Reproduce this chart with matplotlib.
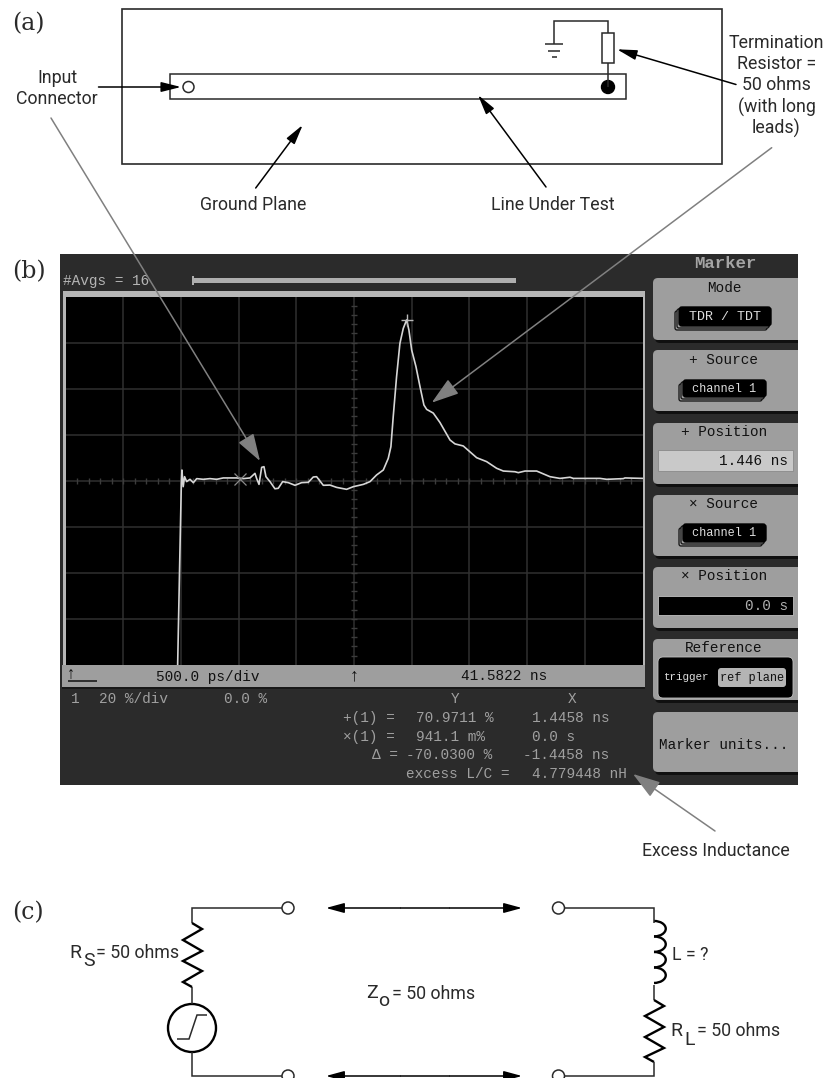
import numpy as np
import matplotlib
matplotlib.use('Agg')
import matplotlib.pyplot as plt
from matplotlib.patches import Rectangle, FancyBboxPatch, Circle, Arc

W, H = 829, 1078

# --- trace ---
time_ns = [-0.540, -0.520, -0.508, -0.503, -0.492, -0.480, -0.462, -0.433, -0.404, -0.375,
           -0.318, -0.260, -0.202, -0.145, -0.087, -0.029, 0.029, 0.087, 0.130, 0.144,
           0.165, 0.188, 0.208, 0.225, 0.260, 0.303, 0.332, 0.370, 0.419, 0.477,
           0.534, 0.592, 0.635, 0.664, 0.722, 0.780, 0.837, 0.924, 0.982, 1.069,
           1.127, 1.184, 1.242, 1.285, 1.308, 1.328, 1.357, 1.386, 1.415, 1.444,
           1.464, 1.488, 1.525, 1.560, 1.594, 1.618, 1.675, 1.733, 1.820, 1.863,
           1.935, 2.051, 2.137, 2.224, 2.282, 2.383, 2.412, 2.470, 2.571, 2.686,
           2.773, 2.860, 2.889, 3.120, 3.178, 3.322, 3.336, 3.489]
percent = [-80.0, -30.1, -1.1, 4.65, -2.6, 1.75, -0.4, 0.6, -0.85, 0.9,
           0.6, 0.9, 0.6, 1.2, 1.2, 1.2, 0.9, 1.2, 3.2, 1.0,
           -1.6, 5.8, 6.1, 1.75, -0.4, -3.5, -3.3, -0.4, -0.85, -2.0,
           -0.85, -0.7, 1.6, 1.75, -2.0, -1.9, -2.9, -3.75, -2.6, -1.6,
           -0.4, 2.5, 4.65, 9.7, 14.8, 27.8, 45.2, 59.7, 66.2, 69.9,
           65.5, 56.8, 49.6, 40.9, 32.9, 31.0, 29.4, 25.3, 17.7, 16.0,
           15.1, 10.0, 8.3, 5.4, 4.2, 3.9, 3.5, 4.2, 4.2, 1.75,
           1.0, 1.5, 1.0, 1.0, 0.6, 0.9, 1.2, 1.0]
plus_marker = (1.4458, 70.0)
x_marker = (0.0, 0.9411)

SANS = 'Roboto'
MONO = 'Liberation Mono'
SERIF = 'DejaVu Serif'
INK = '#2a2a2a'
SCREEN = '#2b2b2b'
PANEL = '#9e9e9e'
DIM = '#a0a0a0'

fig = plt.figure(figsize=(W / 100, H / 100), dpi=100, facecolor='white')


def pixel_axes(z):
    a = fig.add_axes([0, 0, 1, 1], zorder=z)
    a.set_xlim(0, W)
    a.set_ylim(H, 0)
    a.axis('off')
    a.patch.set_alpha(0)
    return a


ax = pixel_axes(1)
top = pixel_axes(3)


def wire(a, xs, ys, lw=1.1, color=INK):
    a.plot(xs, ys, color=color, lw=lw, solid_capstyle='butt', solid_joinstyle='miter')


def label(x, y, s, size=12.8, ha='center', color=INK, a=None, **kw):
    (a or ax).text(x, y, s, fontsize=size, family=SANS, ha=ha, va='center', color=color, **kw)


def arrow(tail, tip, color='black', lw=1.1, length=12, half=3, style='-|>', a=None):
    (a or ax).annotate('', xy=tip, xytext=tail,
                       arrowprops=dict(arrowstyle=f'{style},head_length={length},head_width={half}',
                                       mutation_scale=1, color=color, lw=lw,
                                       shrinkA=0, shrinkB=0))


def mono(x, y, s, color=DIM, ha='left', size=10.4, a=None, **kw):
    (a or ax).text(x, y, s, fontsize=size, family=MONO, ha=ha, va='center', color=color, **kw)


# --- (a) layout sketch ---
ax.text(12, 24, '(a)', fontsize=17, family=SERIF, va='center', color=INK)
ax.add_patch(Rectangle((122, 9), 600, 155, fill=False, ec=INK, lw=1.2))
ax.add_patch(Rectangle((170, 74), 456.5, 25, fill=False, ec=INK, lw=1.1))
ax.add_patch(Circle((188.5, 87), 5.5, fc='white', ec=INK, lw=1.1))
ax.add_patch(Circle((608, 87), 6.5, fc='black', ec='black'))
ax.add_patch(Rectangle((602, 33), 12.5, 30, fc='white', ec=INK, lw=1.1, zorder=3))
wire(ax, [608, 608], [63, 87])
wire(ax, [608, 608, 554, 554], [33, 21, 21, 44])
wire(ax, [545, 563.5], [44, 44])
wire(ax, [548.5, 560], [50.5, 50.5])
wire(ax, [552, 557.5], [57, 57])

label(57, 78, 'Input')
label(57, 99, 'Connector')
arrow((98.5, 87), (181, 87))
label(253, 205.5, 'Ground Plane')
arrow((255.7, 188), (302.7, 125))
label(553, 205.5, 'Line Under Test')
arrow((546, 187), (478, 95))
for yy, s in zip([43, 64, 85, 107, 128],
                 ['Termination', 'Resistor =', '50 ohms', '(with long', 'leads)']):
    label(776.5, yy, s)
arrow((736, 84.5), (617, 49.3))

# --- (b) scope screen ---
ax.text(12, 272, '(b)', fontsize=17, family=SERIF, va='center', color=INK)
ax.add_patch(Rectangle((60, 254), 738, 531, fc=SCREEN, ec='none'))
ax.add_patch(Rectangle((193, 278), 323, 5, fc='#aeaeae', ec='none'))
ax.add_patch(Rectangle((192.5, 276), 1.2, 9, fc='#aeaeae', ec='none'))
mono(63, 281, '#Avgs = 16', color='#b4b4b4')

# frame round the graticule and the status bar
ax.add_patch(Rectangle((63.5, 291), 582, 396, fc='#b6b6b6', ec='none'))
ax.add_patch(Rectangle((62, 665), 583, 22, fc=PANEL, ec='none'))
wire(ax, [62, 645], [687.5, 687.5], lw=1.2, color='#151515')
mono(156, 676.5, '500.0 ps/div', color='#111111')
mono(461, 676.5, '41.5822 ns', color='#111111')
mono(354, 675.5, '↑', color='#111111', ha='center', size=13)
mono(71, 674, '↑', color='#111111', ha='center', size=12)
wire(ax, [68, 97], [680.5, 680.5], color='#111111')

mono(75, 699, '1', ha='center')
mono(99.5, 699, '20 %/div')
mono(224.5, 699, '0.0 %')
mono(455, 699, 'Y', ha='center')
mono(572, 699, 'X', ha='center')
mono(343, 718, '+(1) =')
mono(416, 718, '70.9711 %')
mono(532.5, 718, '1.4458 ns')
mono(343, 737, '×(1) =')
mono(416, 737, '941.1 m%')
mono(532.5, 737, '0.0 s')
mono(372, 755, 'Δ =')
mono(406, 755, '-70.0300 %')
mono(523, 755, '-1.4458 ns')
mono(406, 774, 'excess L/C =')
mono(532.5, 774, '4.779448 nH')

# softkey panels
panels = [(278, 342), (350, 413), (423, 486), (495, 558), (567, 630), (639, 702), (712, 774)]
for y0, y1 in panels:
    ax.add_patch(FancyBboxPatch((655, y0 + 2), 160, y1 - y0 - 1,
                                boxstyle='round,pad=0,rounding_size=5', fc='#101010', ec='none'))
    ax.add_patch(FancyBboxPatch((653, y0), 160, y1 - y0 - 2,
                                boxstyle='round,pad=0,rounding_size=5', fc=PANEL, ec='none'))
ax.add_patch(Rectangle((798, 250), 31, 540, fc='white', ec='none', zorder=2))

mono(725, 264, 'Marker', color='#a4a4a4', ha='center', size=12.5, fontweight='bold')


def softkey(y, s):
    mono(724, y, s, color='#111111', ha='center')


def stacked(x0, x1, y0, y1, s, size):
    # offset outlines behind the black pill
    for d in (4, 2):
        ax.add_patch(FancyBboxPatch((x0 - d, y0 + d), x1 - x0, y1 - y0,
                                    boxstyle='round,pad=0,rounding_size=2',
                                    fc=PANEL, ec='#111111', lw=0.9))
    ax.add_patch(FancyBboxPatch((x0, y0), x1 - x0, y1 - y0,
                                boxstyle='round,pad=0,rounding_size=3', fc='black', ec='black'))
    mono((x0 + x1) / 2, (y0 + y1) / 2, s, color='#dddddd', ha='center', size=size)


softkey(288, 'Mode')
stacked(679, 771, 307, 326, 'TDR / TDT', 9.6)
softkey(360, '+ Source')
stacked(683, 766, 380, 397, 'channel 1', 8.6)
softkey(432, '+ Position')
ax.add_patch(Rectangle((658, 450), 135, 21, fc='#c9c9c9', ec='#8a8a8a', lw=0.6))
mono(788, 461, '1.446 ns', color='#111111', ha='right')
softkey(504, '× Source')
stacked(683, 766, 524, 542, 'channel 1', 8.6)
softkey(576, '× Position')
ax.add_patch(Rectangle((658, 596), 135, 19, fc='black', ec='#c0c0c0', lw=0.6))
mono(788, 606, '0.0 s', color='#b0b0b0', ha='right')
softkey(648, 'Reference')
ax.add_patch(FancyBboxPatch((658, 657), 135, 41, boxstyle='round,pad=0,rounding_size=5',
                            fc='black', ec='#c0c0c0', lw=0.6))
mono(663, 677, 'trigger', color='#dddddd', size=7.8)
ax.add_patch(FancyBboxPatch((718, 668), 68, 19, boxstyle='round,pad=0,rounding_size=3',
                            fc='#b4b4b4', ec='none'))
mono(752, 677.5, 'ref plane', color='#111111', ha='center', size=8.6)
mono(659, 745, 'Marker units...', color='#111111')

# graticule axes: ns across, % up
sx0, sx1, sy0, sy1 = 65.6, 642.6, 296.7, 664.7
sc = fig.add_axes([sx0 / W, 1 - sy1 / H, (sx1 - sx0) / W, (sy1 - sy0) / H], zorder=2)
sc.set_facecolor('black')
sc.set_xlim(-1.511, 3.489)
sc.set_ylim(-80, 80)
for s in sc.spines.values():
    s.set_visible(False)
sc.set_xticks(-1.511 + 0.5 * np.arange(1, 10))
sc.set_yticks(np.arange(-60, 61, 20))
sc.tick_params(length=0, labelbottom=False, labelleft=False)
sc.grid(True, color='#303030', lw=1.1)
sc.set_axisbelow(True)
cx = 0.989
sc.plot(-1.511 + 0.1 * np.arange(1, 50), np.zeros(49), '|', color='#3c3c3c', ms=5, mew=1)
sc.plot(np.full(39, cx), -80 + 4 * np.arange(1, 40), '_', color='#3c3c3c', ms=5, mew=1)
sc.plot(time_ns, percent, color='#d6d6d6', lw=1.2, solid_joinstyle='round')
sc.plot(*plus_marker, '+', color='#b8b8b8', ms=9, mew=1)
sc.plot(*x_marker, 'x', color='#8a8a8a', ms=8, mew=0.9)

# grey callout arrows run across everything
GREY = '#808080'
arrow((51, 118), (260, 461), color=GREY, length=17, half=5.5, a=top)
arrow((771.7, 147.7), (431.7, 402.7), color=GREY, length=17, half=5.5, a=top)
arrow((715, 831), (633, 774), color=GREY, length=17, half=5.5, a=top)
label(716, 851, 'Excess Inductance', a=top)

# --- (c) equivalent circuit ---
ax.text(12, 913, '(c)', fontsize=17, family=SERIF, va='center', color=INK)
wire(ax, [282, 192, 192], [908, 908, 923])
wire(ax, [282, 192, 192], [1076, 1076, 1052])
wire(ax, [192, 192], [987, 1004])
wire(ax, [192, 202, 183, 202, 183, 202, 183, 192], [923, 929, 940, 951, 961, 971, 982, 987], lw=1.7, color='black')
ax.add_patch(Circle((192, 1028), 24, fc='white', ec='black', lw=1.7))
wire(ax, [177, 189, 197, 207], [1039, 1039, 1015, 1015])
for xx, yy in [(288, 908), (288, 1076), (558.5, 908), (558.5, 1076)]:
    ax.add_patch(Circle((xx, yy), 6, fc='white', ec=INK, lw=1.1, zorder=3))
for yy in (908, 1076):
    arrow((400, yy), (326, yy), length=11, half=3)
    arrow((450, yy), (522, yy), length=11, half=3)
    wire(ax, [400, 450], [yy, yy], lw=1.1, color='black')
wire(ax, [564, 654, 654], [908, 908, 923])
for k in range(4):
    ax.add_patch(Arc((654, 928.7 + 15.5 * k), 23.5, 15.5, theta1=-90, theta2=90, color='black', lw=1.7))
wire(ax, [654, 654], [985, 1000])
wire(ax, [654, 664, 645, 664, 645, 664, 645, 654], [1000, 1006, 1016, 1027, 1037, 1048, 1057, 1062], lw=1.7, color='black')
wire(ax, [654, 654, 564], [1062, 1076, 1076])

label(69, 953, 'R', ha='left', size=14)
label(83, 961, 'S', ha='left', size=14)
label(96, 953, '= 50 ohms', ha='left')
label(366, 993, 'Z', ha='left', size=14)
label(378, 1001, 'o', ha='left', size=14)
label(392, 994, '= 50 ohms', ha='left')
label(672, 955, 'L = ?', ha='left')
label(670, 1031, 'R', ha='left', size=14)
label(684, 1040, 'L', ha='left', size=14)
label(697, 1031, '= 50 ohms', ha='left')

fig.savefig('out.png', dpi=100)
